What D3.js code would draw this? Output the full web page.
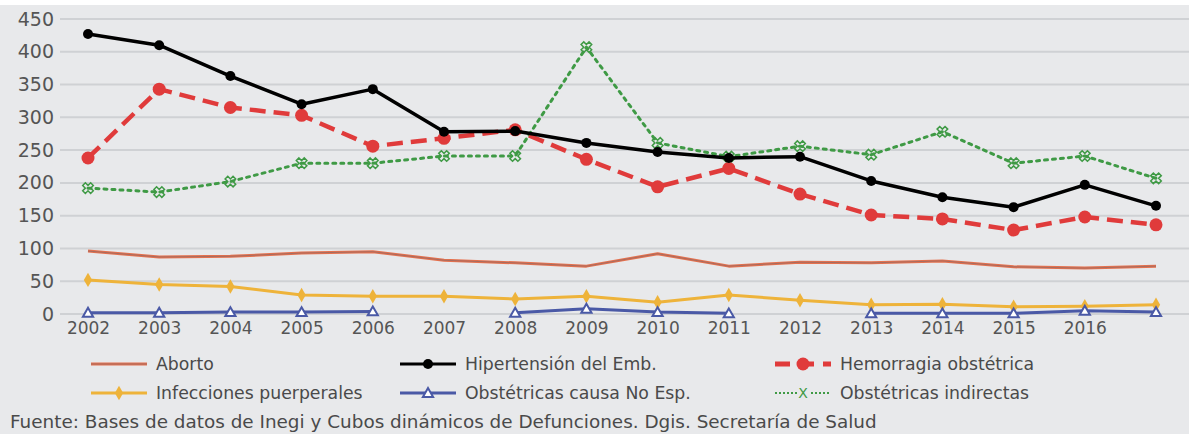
<!DOCTYPE html>
<html lang="es">
<head>
<meta charset="UTF-8">
<title>Defunciones maternas por causa</title>
<script src="https://cdn.jsdelivr.net/npm/d3@7"></script>
<style>
  body { margin: 0; background: #fff; }
  svg { display: block; font-family: "DejaVu Sans", sans-serif; }
</style>
</head>
<body>
<div id="chart"></div>
<script>
// datos
const years = [2002, 2003, 2004, 2005, 2006, 2007, 2008, 2009, 2010, 2011, 2012, 2013, 2014, 2015, 2016, 2017];
const tickLabels = ["2002", "2003", "2004", "2005", "2006", "2007", "2008", "2009", "2010", "2011", "2012", "2013", "2014", "2015", "2016", ""];
const yTicks = [0, 50, 100, 150, 200, 250, 300, 350, 400, 450];

const aborto       = [96, 87, 88, 93, 95, 82, 78, 73, 92, 73, 79, 78, 81, 72, 70, 73];
const hipertension = [427, 410, 363, 320, 343, 278, 279, 261, 247, 238, 240, 203, 178, 163, 197, 165];
const hemorragia   = [238, 343, 315, 303, 256, 268, 281, 236, 194, 222, 183, 151, 145, 128, 148, 136];
const infecciones  = [52, 45, 42, 29, 27, 27, 23, 27, 18, 29, 21, 14, 15, 11, 12, 14];
const noEsp        = [2, 2, 3, 3, 4, null, 2, 8, 3, 1, null, 1, 1, 1, 5, 3];
const indirectas   = [192, 186, 202, 230, 230, 241, 241, 407, 261, 240, 256, 243, 278, 230, 241, 207];

const W = 1191, H = 434;
const BG = "#e8e9eb";
const svg = d3.select("#chart").append("svg").attr("width", W).attr("height", H);

svg.append("rect").attr("x", 0).attr("y", 5).attr("width", W - 2).attr("height", H - 5).attr("fill", BG);

const x = d3.scalePoint().domain(years).range([88, 1156]);
const y = d3.scaleLinear().domain([0, 450]).range([314, 19]);

// rejilla
svg.append("g").selectAll("line").data(yTicks).join("line")
  .attr("x1", 60).attr("x2", 1189)
  .attr("y1", d => y(d)).attr("y2", d => y(d))
  .attr("stroke", "#cfd1d4").attr("stroke-width", 2);

// eje y
const yAxis = svg.append("g").attr("transform", "translate(54,0)")
  .call(d3.axisLeft(y).tickValues(yTicks).tickSize(0).tickPadding(0));
yAxis.select(".domain").remove();
yAxis.selectAll("text").attr("font-size", 19).attr("fill", "#555").attr("font-family", "DejaVu Sans, sans-serif");

// eje x
const xAxis = svg.append("g").attr("transform", "translate(0,322)")
  .call(d3.axisBottom(x).tickSize(0).tickPadding(0).tickFormat((d, i) => tickLabels[i]));
xAxis.select(".domain").remove();
xAxis.selectAll("text").attr("font-size", 17).attr("fill", "#555").attr("font-family", "DejaVu Sans, sans-serif");

const series = [
  { name: "Aborto", values: aborto, color: "#e5714e", width: 3, dash: null, marker: "none" },
  { name: "Hipertensión del Emb.", values: hipertension, color: "#000", width: 3.5, dash: null, marker: "circle" },
  { name: "Hemorragia obstétrica", values: hemorragia, color: "#e03b3b", width: 4.5, dash: "16,8", marker: "bigcircle" },
  { name: "Infecciones puerperales", values: infecciones, color: "#eeb33a", width: 3, dash: null, marker: "diamond" },
  { name: "Obstétricas causa No Esp.", values: noEsp, color: "#4a59a6", width: 3, dash: null, marker: "triangle" },
  { name: "Obstétricas indirectas", values: indirectas, color: "#3f9a45", width: 3, dash: "3,5", marker: "x" }
];

const line = d3.line()
  .defined(d => d.v != null)
  .x(d => x(d.year)).y(d => y(d.v));

function drawMarker(g, type, color, cx, cy) {
  if (type === "circle") {
    g.append("circle").attr("cx", cx).attr("cy", cy).attr("r", 5).attr("fill", color);
  } else if (type === "bigcircle") {
    g.append("circle").attr("cx", cx).attr("cy", cy).attr("r", 6.5).attr("fill", color);
  } else if (type === "diamond") {
    g.append("path").attr("d", d3.symbol(d3.symbolDiamond, 60)()).attr("transform", `translate(${cx},${cy})`).attr("fill", color);
  } else if (type === "triangle") {
    g.append("path").attr("d", d3.symbol(d3.symbolTriangle, 45)()).attr("transform", `translate(${cx},${cy + 1})`)
      .attr("fill", "#fff").attr("stroke", color).attr("stroke-width", 2);
  } else if (type === "x") {
    g.append("path").attr("d", d3.symbol(d3.symbolCross, 70)()).attr("transform", `translate(${cx},${cy}) rotate(45)`)
      .attr("fill", "none").attr("stroke", color).attr("stroke-width", 1.5);
  }
}

// orden de dibujo: abajo primero
const drawOrder = [0, 3, 4, 5, 2, 1];
drawOrder.forEach(i => {
  const s = series[i];
  const pts = years.map((yr, j) => ({ year: yr, v: s.values[j] }));
  const g = svg.append("g");
  g.append("path").datum(pts).attr("d", line)
    .attr("fill", "none").attr("stroke", s.color).attr("stroke-width", s.width)
    .attr("stroke-dasharray", s.dash).attr("stroke-linejoin", "round")
    .attr("stroke-linecap", s.dash === "3,5" ? "round" : "butt");
  if (s.marker === "none") {
    // línea central más oscura
    g.append("path").datum(pts).attr("d", line)
      .attr("fill", "none").attr("stroke", "#8c6a68").attr("stroke-width", 1).attr("opacity", 0.7);
  }
  pts.filter(p => p.v != null).forEach(p => drawMarker(g, s.marker, s.color, x(p.year), y(p.v)));
});

// leyenda
const legendPos = [
  { x: 91, y: 364 }, { x: 400, y: 364 }, { x: 775, y: 364 },
  { x: 91, y: 393 }, { x: 400, y: 393 }, { x: 775, y: 393 }
];
series.forEach((s, k) => {
  const p = legendPos[k];
  const g = svg.append("g").attr("transform", `translate(${p.x},${p.y})`);
  if (s.marker === "x") {
    g.append("line").attr("x1", 0).attr("x2", 56).attr("y1", 0).attr("y2", 0)
      .attr("stroke", s.color).attr("stroke-width", 2).attr("stroke-dasharray", "2,2");
    g.append("rect").attr("x", 22).attr("y", -9).attr("width", 12).attr("height", 16).attr("fill", BG);
    g.append("text").attr("x", 28).attr("y", 5).attr("text-anchor", "middle")
      .attr("font-size", 14).attr("fill", s.color).text("X");
  } else {
    g.append("line").attr("x1", 0).attr("x2", 56).attr("y1", 0).attr("y2", 0)
      .attr("stroke", s.color).attr("stroke-width", s.marker === "bigcircle" ? 5 : 3)
      .attr("stroke-dasharray", s.marker === "bigcircle" ? "15,9" : null);
    if (s.marker === "none") {
      g.append("line").attr("x1", 0).attr("x2", 56).attr("y1", 0).attr("y2", 0)
        .attr("stroke", "#8c6a68").attr("stroke-width", 1).attr("opacity", 0.7);
    }
    drawMarker(g, s.marker, s.color, 28, 0);
  }
  g.append("text").attr("x", 65).attr("y", 6).attr("font-size", 17.3).attr("fill", "#4a4a4a").text(s.name);
});

svg.append("text").attr("x", 10).attr("y", 428).attr("font-size", 18.4).attr("fill", "#4a4a4a")
  .text("Fuente: Bases de datos de Inegi y Cubos dinámicos de Defunciones. Dgis. Secretaría de Salud");
</script>
</body>
</html>
